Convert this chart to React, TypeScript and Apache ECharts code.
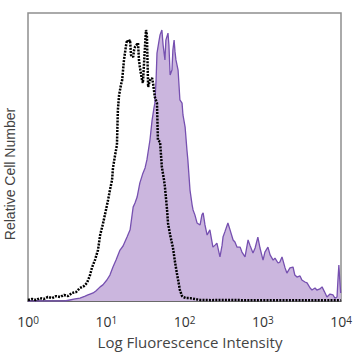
import React, { useEffect, useRef } from "react";
import * as echarts from "echarts";

// Channel (0–1023, 4 log decades) and relative count per channel
const isotypeChannels = [0, 13, 26, 39, 52, 65, 79, 92, 105, 118, 131, 144, 157, 170, 183, 193, 203, 209, 219, 229, 236, 245, 255, 262, 268, 275, 278, 285, 291, 294, 298, 304, 308, 314, 321, 324, 327, 334, 337, 344, 347, 350, 357, 360, 363, 366, 373, 376, 383, 386, 389, 393, 399, 406, 409, 415, 422, 425, 432, 438, 445, 448, 455, 458, 465, 474, 481, 487, 494, 497, 504, 507, 517, 530, 546, 563, 600, 650, 700, 800, 900, 1023];
const isotypeCounts = [0.35, 0.7, 0.35, 1.0, 0.7, 1.4, 1.0, 1.7, 1.4, 2.1, 1.7, 2.8, 3.1, 4.5, 5.2, 6.3, 9.0, 11.5, 14.2, 17.7, 22.9, 26.7, 31.6, 35.1, 38.5, 42.0, 46.2, 50.7, 54.2, 66.3, 71.5, 75.0, 76.7, 83.7, 88.9, 90.6, 89.9, 90.6, 85.4, 84.7, 87.1, 88.2, 89.2, 89.6, 83.7, 81.2, 76.7, 75.7, 88.9, 94.1, 92.4, 74.3, 76.7, 77.4, 75.7, 70.8, 68.7, 55.9, 55.2, 46.5, 42.0, 39.6, 31.6, 27.1, 22.9, 18.7, 13.5, 9.7, 5.6, 3.8, 1.7, 1.4, 1.0, 1.0, 0.7, 0.35, 0.3, 0.35, 0.3, 0.3, 0.3, 0.3];

const stainedChannels = [0, 120, 137, 154, 170, 187, 196, 203, 213, 222, 236, 245, 258, 268, 278, 288, 301, 311, 324, 334, 344, 350, 357, 366, 376, 383, 389, 399, 406, 412, 415, 419, 422, 429, 432, 438, 442, 448, 451, 458, 461, 465, 471, 474, 478, 481, 484, 491, 497, 504, 507, 514, 520, 523, 530, 537, 540, 546, 553, 563, 569, 573, 579, 586, 595, 605, 612, 618, 628, 635, 638, 644, 654, 661, 671, 677, 684, 694, 700, 710, 720, 726, 736, 743, 752, 759, 769, 775, 785, 792, 802, 808, 818, 824, 831, 841, 847, 857, 867, 873, 880, 890, 896, 906, 913, 923, 929, 939, 945, 955, 962, 972, 978, 988, 998, 1004, 1011, 1014, 1017, 1020, 1023];
const stainedCounts = [0, 0, 0.35, 0.7, 1.0, 1.7, 2.1, 2.4, 2.8, 3.5, 4.9, 5.6, 7.3, 9.0, 11.8, 14.2, 17.7, 19.1, 22.2, 24.7, 32.6, 34.0, 36.1, 41.0, 44.4, 46.2, 49.0, 55.9, 62.8, 67.0, 68.7, 76.7, 86.1, 90.6, 92.4, 94.1, 88.9, 83.7, 90.6, 93.0, 88.9, 78.5, 80.2, 87.1, 90.6, 86.5, 83.7, 80.2, 69.8, 68.7, 64.6, 60.4, 52.4, 49.0, 38.5, 33.3, 31.6, 29.9, 27.1, 26.4, 29.9, 30.6, 26.4, 22.9, 24.7, 18.7, 19.4, 20.1, 15.3, 19.4, 22.2, 24.0, 27.1, 24.7, 21.2, 20.5, 18.7, 18.7, 17.0, 15.3, 21.2, 19.4, 16.7, 18.4, 22.2, 18.4, 14.2, 17.0, 18.7, 16.0, 14.2, 14.9, 13.2, 13.5, 15.3, 11.5, 9.7, 11.5, 11.8, 9.0, 8.3, 8.7, 7.3, 6.6, 6.3, 4.5, 3.8, 4.5, 3.8, 4.2, 4.9, 2.8, 1.4, 2.4, 2.1, 1.0, 1.4, 7.3, 12.5, 7.3, 2.8];

const decadeExponents = ["0", "1", "2", "3", "4"];
const xTitle = "Log Fluorescence Intensity";
const yTitle = "Relative Cell Number";

export default function App() {
  const ref = useRef<HTMLDivElement>(null);
  useEffect(() => {
    if (!ref.current) return;
    const chart = echarts.init(ref.current, null, { renderer: "svg" });
    chart.setOption({
      animation: false,
      grid: {
        left: 28,
        top: 13,
        right: 17,
        bottom: 57,
        show: true,
        borderColor: "#8f8f8f",
        borderWidth: 1.5,
        backgroundColor: "#ffffff",
      },
      xAxis: {
        type: "value",
        min: 0,
        max: 1024,
        interval: 256,
        axisLine: { show: true, lineStyle: { color: "#555", width: 1.5 } },
        axisTick: { show: false },
        splitLine: { show: false },
        axisLabel: {
          margin: 14,
          formatter: (v: number) => `{b|10}{s|${decadeExponents[Math.round(v / 256)]}}`,
          rich: {
            b: { fontFamily: "Open Sans", fontSize: 14, color: "#333", verticalAlign: "bottom", lineHeight: 13 },
            s: { fontFamily: "Open Sans", fontSize: 10, color: "#333", verticalAlign: "top", lineHeight: 13, padding: [0, 0, 5, 0] },
          },
        },
      },
      yAxis: {
        type: "value",
        min: 0,
        max: 100,
        axisLine: { show: false },
        axisTick: { show: false },
        splitLine: { show: false },
        axisLabel: { show: false },
      },
      graphic: [
        {
          type: "text",
          x: 190,
          y: 342,
          style: {
            text: xTitle,
            fontFamily: "Open Sans",
            fontSize: 15,
            fill: "#444",
            align: "center",
            verticalAlign: "middle",
          },
        },
        {
          type: "text",
          x: 10,
          y: 174,
          rotation: Math.PI / 2,
          style: {
            text: yTitle,
            fontFamily: "Liberation Sans",
            fontSize: 14,
            fill: "#444",
            align: "center",
            verticalAlign: "middle",
          },
        },
      ],
      series: [
        {
          name: "Stained",
          type: "line",
          data: stainedChannels.map((c, i) => [c, stainedCounts[i]]),
          showSymbol: false,
          smooth: false,
          lineStyle: { color: "#7650b0", width: 1.3 },
          areaStyle: { color: "#cbb6de", opacity: 1 },
          z: 2,
        },
        {
          name: "Isotype",
          type: "line",
          data: isotypeChannels.map((c, i) => [c, isotypeCounts[i]]),
          showSymbol: false,
          smooth: false,
          lineStyle: { color: "#000", width: 2.5, type: [2, 1.2] },
          z: 3,
        },
      ],
    });
    return () => chart.dispose();
  }, []);
  return <div ref={ref} style={{ width: 358, height: 358, position: "absolute", left: 0, top: 0 }} />;
}
